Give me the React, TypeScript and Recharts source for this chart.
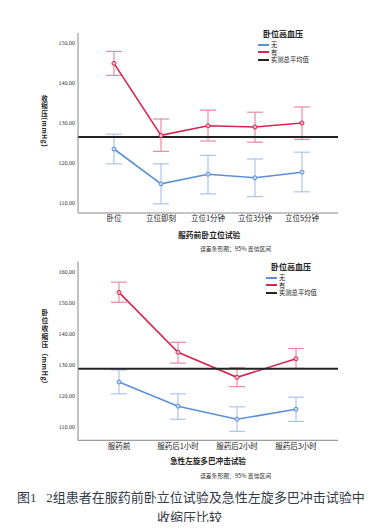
import { LineChart, Line, XAxis, YAxis, ErrorBar, ReferenceLine } from "recharts";

// 服药前卧立位试验
const standCats = ["卧位", "立位即刻", "立位1分钟", "立位3分钟", "立位5分钟"];
const standHtnMean = [144.9, 126.9, 129.3, 129.0, 130.0];
const standHtnLow = [141.9, 122.9, 125.5, 125.2, 125.9];
const standHtnHigh = [147.9, 131.0, 133.2, 132.7, 134.0];
const standNoMean = [123.5, 114.8, 117.2, 116.3, 117.7];
const standNoLow = [119.8, 109.8, 112.3, 111.6, 112.8];
const standNoHigh = [127.2, 119.8, 121.9, 121.0, 122.7];
const standOverall = 126.5;
const standTicks = [110, 120, 130, 140, 150];

// 急性左旋多巴冲击试验
const dopaCats = ["服药前", "服药后1小时", "服药后2小时", "服药后3小时"];
const dopaHtnMean = [153.3, 134.0, 125.9, 131.9];
const dopaHtnLow = [150.1, 130.5, 122.9, 128.8];
const dopaHtnHigh = [156.6, 137.2, 129.0, 135.2];
const dopaNoMean = [124.4, 116.6, 112.4, 115.6];
const dopaNoLow = [120.6, 112.4, 108.5, 111.7];
const dopaNoHigh = [128.3, 120.6, 116.4, 119.5];
const dopaOverall = 128.7;
const dopaTicks = [110, 120, 130, 140, 150, 160];

const RED = "#d6254f";
const RED_ERR = "#ea8aa3";
const BLUE = "#5b8fd8";
const BLUE_ERR = "#a9c5ec";
const CJK = '"Noto Sans CJK SC", sans-serif';

const buildRows = (cats, hm, hl, hh, nm, nl, nh) =>
  cats.map((c, i) => ({
    name: c,
    htn: hm[i],
    htnErr: [hm[i] - hl[i], hh[i] - hm[i]],
    no: nm[i],
    noErr: [nm[i] - nl[i], nh[i] - nm[i]],
  }));

const standRows = buildRows(standCats, standHtnMean, standHtnLow, standHtnHigh, standNoMean, standNoLow, standNoHigh);
const dopaRows = buildRows(dopaCats, dopaHtnMean, dopaHtnLow, dopaHtnHigh, dopaNoMean, dopaNoLow, dopaNoHigh);

const txt = (left, top, text, style = {}) => (
  <div
    style={{
      position: "absolute",
      left,
      top,
      fontFamily: CJK,
      whiteSpace: "nowrap",
      lineHeight: 1,
      color: "#222",
      ...style,
    }}
  >
    {text}
  </div>
);

// vertical axis title: CJK upright, latin part turned
const VLabel = ({ x, y, cjk, latin, size, gap }) => (
  <div
    style={{
      position: "absolute",
      left: x,
      top: y,
      fontFamily: CJK,
      fontSize: size,
      fontWeight: 700,
      color: "#222",
      lineHeight: 1,
      writingMode: "vertical-rl",
      whiteSpace: "nowrap",
    }}
  >
    <span style={{ textOrientation: "upright", letterSpacing: gap }}>{cjk}</span>
    <span style={{ textOrientation: "mixed", letterSpacing: 0.6 }}>{latin}</span>
  </div>
);

const Legend = ({ x, y }) => {
  const items = [
    { label: "无", color: BLUE },
    { label: "有", color: RED },
    { label: "实测总平均值", color: "#222" },
  ];
  return (
    <div style={{ position: "absolute", left: x, top: y, fontFamily: CJK, lineHeight: 1 }}>
      <div style={{ fontSize: 8, fontWeight: 700, marginLeft: 5, height: 11, color: "#222" }}>卧位高血压</div>
      {items.map((it) => (
        <div key={it.label} style={{ display: "flex", alignItems: "center", height: 7.5 }}>
          <div style={{ width: 11, height: 1.6, background: it.color, marginRight: 2 }} />
          <span style={{ fontSize: 6.3, lineHeight: "7px", color: "#222" }}>{it.label}</span>
        </div>
      ))}
    </div>
  );
};

const Panel = ({ rows, ticks, domain, overall, height, margin, pad }) => (
  <LineChart width={374} height={height} data={rows} margin={margin}>
    <XAxis
      dataKey="name"
      height={30}
      padding={pad}
      axisLine={{ stroke: "#888", strokeWidth: 1 }}
      tickLine={false}
      tickSize={2}
      tickMargin={1}
      tick={{ fontSize: 7.5, fill: "#222", fontFamily: CJK }}
      interval={0}
    />
    <YAxis
      width={78}
      domain={domain}
      ticks={ticks}
      allowDataOverflow
      axisLine={{ stroke: "#888", strokeWidth: 1 }}
      tickLine={false}
      tickSize={1}
      tickMargin={2}
      tickFormatter={(v) => v.toFixed(2)}
      tick={{ fontSize: 6, fill: "#333", fontFamily: '"Liberation Serif", serif' }}
    />
    <Line
      dataKey="no"
      stroke={BLUE}
      strokeWidth={1.6}
      dot={{ r: 2, fill: "#c8d9f3", stroke: BLUE, strokeWidth: 1 }}
      isAnimationActive={false}
    >
      <ErrorBar dataKey="noErr" width={8} stroke={BLUE_ERR} strokeWidth={1.2} direction="y" />
    </Line>
    <Line
      dataKey="htn"
      stroke={RED}
      strokeWidth={1.6}
      dot={{ r: 2, fill: "#f3bccb", stroke: RED, strokeWidth: 1 }}
      isAnimationActive={false}
    >
      <ErrorBar dataKey="htnErr" width={8} stroke={RED_ERR} strokeWidth={1.2} direction="y" />
    </Line>
    <ReferenceLine y={overall} stroke="#222" strokeWidth={2} />
  </LineChart>
);

export default function App() {
  return (
    <div style={{ position: "relative", width: 374, height: 530, margin: -8, background: "#fff", overflow: "hidden" }}>
      <div style={{ position: "absolute", left: 0, top: 0 }}>
        <Panel
          rows={standRows}
          ticks={standTicks}
          domain={[107.5, 152.5]}
          overall={standOverall}
          height={250}
          margin={{ top: 33, right: 36, bottom: 7, left: 0 }}
          pad={{ left: 36, right: 36 }}
        />
      </div>
      <div style={{ position: "absolute", left: 0, top: 250 }}>
        <Panel
          rows={dopaRows}
          ticks={dopaTicks}
          domain={[105.6, 163.2]}
          overall={dopaOverall}
          height={230}
          margin={{ top: 11.7, right: 36, bottom: 9.7, left: 0 }}
          pad={{ left: 41, right: 42 }}
        />
      </div>

      <Legend x={258} y={30} />
      <Legend x={266} y={263} />

      <VLabel x={41} y={95} cjk="收缩压" latin="(mmHg)" size={6.5} gap={1} />
      <VLabel x={41} y={309} cjk="卧位收缩压" latin="（mmHg）" size={6.8} gap={1.2} />

      {txt(178, 231, "服药前卧立位试验", { fontSize: 7.8, fontWeight: 700 })}
      {txt(200, 246, "误差条形图：95% 置信区间", { fontSize: 5.8, color: "#333" })}

      {txt(170, 457, "急性左旋多巴冲击试验", { fontSize: 7.6, fontWeight: 700 })}
      {txt(200, 473, "误差条形图：95% 置信区间", { fontSize: 5.8, color: "#333" })}

      {txt(17, 491, "图1\u00a0\u00a0\u00a02组患者在服药前卧立位试验及急性左旋多巴冲击试验中", {
        fontSize: 13,
        fontFamily: '"Liberation Serif", "Noto Sans CJK SC", serif',
        color: "#333a48",
      })}
      {txt(157, 511, "收缩压比较", {
        fontSize: 13,
        fontFamily: '"Liberation Serif", "Noto Sans CJK SC", serif',
        color: "#333a48",
      })}

      <div style={{ position: "absolute", left: 373, top: 0, width: 1, height: 530, background: "#e6e6e6" }} />
    </div>
  );
}
